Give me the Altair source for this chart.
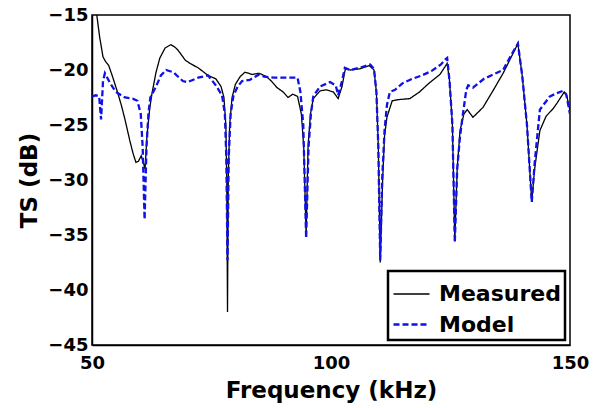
import altair as alt
import pandas as pd

meas_x = [51.0, 51.6, 52.3, 52.8, 53.5, 54.3, 55.4, 56.2, 56.9, 57.9, 58.6, 59.2, 59.7, 60.3, 60.8, 61.1,
          61.5, 62.1, 62.6, 63.4, 64.2, 65.3, 66.5, 67.3, 68.0, 69.5, 70.5, 72.2, 74.3, 75.9, 77.0, 77.6,
          78.0, 78.2, 78.35, 78.5, 78.8, 79.3, 80.0, 81.0, 82.0, 83.5, 85.0, 86.5, 87.5, 88.7, 90.0, 91.0,
          92.0, 93.0, 93.8, 94.3, 94.8, 95.2, 95.7, 96.3, 97.7, 99.0, 100.5, 101.5, 102.3, 103.0, 104.0,
          106.0, 108.0, 109.0, 109.5, 109.9, 110.3, 110.8, 111.2, 111.7, 112.8, 114.0, 116.5, 118.5, 120.5,
          122.8, 124.3, 124.8, 125.4, 125.9, 126.4, 127.0, 127.8, 128.5, 129.7, 131.8, 134.0, 136.0, 137.5,
          139.1, 140.0, 141.0, 142.0, 142.6, 143.7, 145.0, 146.5, 147.3, 148.8, 149.3, 150.0]
meas_y = [-15.0, -17.0, -18.8, -19.2, -19.6, -20.6, -22.1, -23.3, -24.5, -26.4, -27.6, -28.4, -28.3, -27.8, -28.5, -29.0,
          -26.0, -23.4, -22.0, -20.2, -18.9, -18.0, -17.7, -17.9, -18.2, -19.1, -19.4, -19.8, -20.5, -20.8, -21.5, -22.5,
          -25.0, -30.0, -42.0, -30.0, -25.0, -22.5, -21.3, -20.6, -20.2, -20.4, -20.3, -20.6, -21.0, -21.6, -22.0, -22.5,
          -22.2, -22.4, -24.0, -27.0, -35.0, -27.0, -24.0, -22.6, -21.9, -21.8, -22.0, -22.6, -21.5, -19.9, -20.0,
          -19.9, -19.6, -20.0, -22.0, -27.0, -37.5, -30.0, -26.0, -24.3, -22.8, -22.7, -22.6, -22.0, -21.2,
          -20.4, -19.4, -21.0, -25.0, -35.5, -29.0, -25.5, -24.0, -23.6, -24.3, -23.4, -21.8, -20.3, -19.0,
          -17.6, -20.5, -25.0, -32.0, -29.0, -25.5, -24.2, -23.5, -23.0, -22.0, -22.3, -23.7]

model_x = [50.0, 50.8, 51.5, 51.9, 52.3, 52.7, 53.8, 55.0, 56.9, 58.5, 59.5, 60.2, 60.6, 61.0, 61.4, 61.8,
           62.2, 63.4, 64.4, 65.5, 67.0, 69.0, 70.0, 72.2, 74.3, 75.9, 77.2, 77.8, 78.1, 78.35, 78.6, 79.0,
           79.6, 80.5, 81.4, 83.0, 85.0, 86.0, 88.0, 91.0, 93.0, 93.6, 94.2, 94.8, 95.3, 95.8, 96.3, 97.7,
           99.8, 101.0, 101.5, 102.3, 102.9, 104.0, 106.0, 108.2, 109.0, 109.5, 109.9, 110.3, 110.7, 111.2,
           111.7, 112.3, 113.4, 115.0, 117.0, 119.0, 121.0, 123.0, 124.0, 124.3, 124.8, 125.4, 125.9, 126.4,
           127.0, 127.6, 128.3, 128.7, 129.7, 132.0, 134.5, 136.0, 137.5, 139.1, 140.0, 141.0, 142.0, 142.6,
           143.7, 145.8, 147.3, 148.5, 149.2, 150.0]
model_y = [-22.4, -22.3, -22.4, -24.5, -21.0, -20.3, -21.2, -22.0, -22.5, -22.6, -22.8, -24.0, -27.0, -33.6, -27.0, -24.0,
           -22.5, -21.5, -20.5, -20.0, -20.2, -21.0, -21.1, -20.7, -20.5, -21.4, -22.3, -24.0, -28.0, -37.3, -28.0, -24.0,
           -22.3, -21.5, -21.0, -20.9, -20.4, -20.6, -20.7, -20.7, -20.7, -22.0, -25.0, -35.3, -27.0, -24.0, -22.4, -21.5,
           -21.1, -21.4, -22.3, -21.0, -19.8, -20.0, -19.8, -19.5, -19.9, -22.0, -27.0, -37.3, -30.0, -25.5,
           -23.2, -22.0, -21.8, -21.2, -20.8, -20.5, -20.1, -19.5, -19.0, -18.9, -21.0, -25.0, -35.7, -29.0,
           -26.0, -24.0, -21.8, -21.4, -21.6, -20.8, -20.3, -20.0, -18.8, -17.6, -20.5, -25.0, -32.0, -28.5,
           -23.6, -22.4, -22.1, -21.9, -22.2, -24.0]

series_names = ["Measured", "Model"]
x_ticks = [50, 100, 150]
y_ticks = [-45, -40, -35, -30, -25, -20, -15]

df = pd.concat([
    pd.DataFrame({"freq": meas_x, "ts": meas_y, "series": series_names[0], "order": range(len(meas_x))}),
    pd.DataFrame({"freq": model_x, "ts": model_y, "series": series_names[1], "order": range(len(model_x))}),
])

FONT = "DejaVu Sans"

chart = alt.Chart(df).mark_line(clip=True).encode(
    x=alt.X("freq:Q", scale=alt.Scale(domain=[50, 150], nice=False),
            axis=alt.Axis(values=x_ticks, title="Frequency (kHz)", grid=False, ticks=False,
                          labelFlush=False, labelPadding=9, titlePadding=7,
                          domainColor="black", domainWidth=1.5)),
    y=alt.Y("ts:Q", scale=alt.Scale(domain=[-45, -15], nice=False),
            axis=alt.Axis(values=y_ticks, title="TS (dB)", grid=False, ticks=False,
                          labelFlush=False, labelPadding=4, titlePadding=6,
                          domainColor="black", domainWidth=1.5)),
    color=alt.Color("series:N", scale=alt.Scale(domain=series_names, range=["#000000", "#1010e8"]),
                    legend=alt.Legend(title=None, orient="bottom-right", offset=5,
                                      strokeColor="black", padding=4, fillColor="white",
                                      symbolType="stroke", symbolSize=1296, symbolStrokeWidth=1.8,
                                      labelFont=FONT, labelFontSize=22, labelFontWeight="bold",
                                      labelColor="black", labelOffset=8, rowPadding=0)),
    strokeDash=alt.StrokeDash("series:N", scale=alt.Scale(domain=series_names, range=[[1, 0], [6, 3]]),
                              legend=None),
    strokeWidth=alt.StrokeWidth("series:N", scale=alt.Scale(domain=series_names, range=[1.3, 2.3]),
                                legend=None),
    order="order:Q",
).properties(
    width=478, height=330,
    autosize=alt.AutoSizeParams(type="none"),
    padding={"left": 92, "top": 15, "right": 35, "bottom": 63},
).configure_view(
    stroke="black", strokeWidth=1.5
).configure_legend(
    strokeWidth=2.5
).configure_axis(
    labelFont=FONT, labelFontSize=18, labelFontWeight="bold", labelColor="black",
    titleFont=FONT, titleFontSize=23, titleFontWeight="bold", titleColor="black",
)

chart.save("out.html", embed_options={"renderer": "svg", "actions": False})
